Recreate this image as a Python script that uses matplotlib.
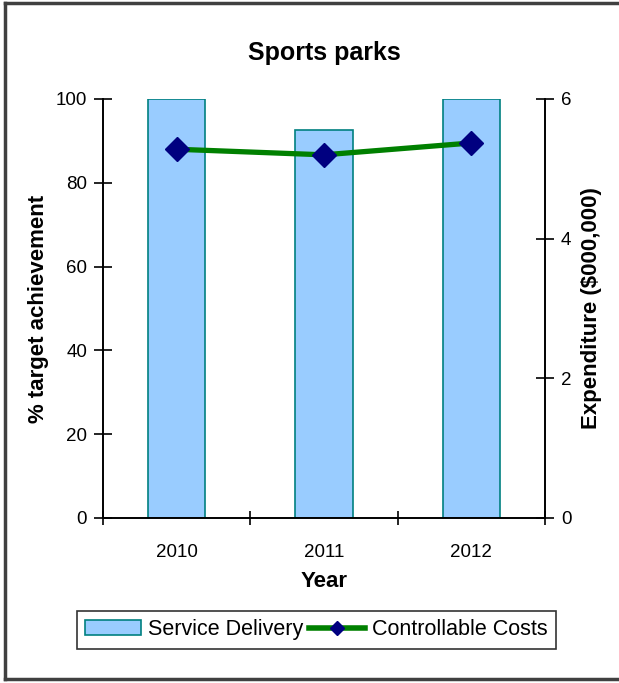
import matplotlib.pyplot as plt
from matplotlib.lines import Line2D

years = ['2010', '2011', '2012']
service_delivery = [100, 92.5, 100]       # % target achievement
controllable_costs = [5.28, 5.2, 5.37]    # expenditure, $000,000

plt.rcParams['font.family'] = ['Liberation Sans', 'DejaVu Sans']

fig = plt.figure(figsize=(6.19, 6.83), dpi=100)
ax = fig.add_axes([0.1664, 0.2416, 0.7141, 0.6135])
ax2 = ax.twinx()

x = range(len(years))
ax.bar(x, service_delivery, width=0.39, color='#99CCFF', edgecolor='#008080',
       linewidth=1.2, label='Service Delivery', zorder=2)
ax2.plot(x, controllable_costs, color='#008000', linewidth=3.8,
         marker='D', markersize=12, markerfacecolor='#000080',
         markeredgecolor='#000080', zorder=3)

ax.set_xlim(-0.5, 2.5)
ax.set_ylim(0, 100)
ax2.set_ylim(0, 6)
ax.set_yticks([0, 20, 40, 60, 80, 100])
ax2.set_yticks([0, 2, 4, 6])
ax.set_xticks([-0.5, 0.5, 1.5, 2.5])
ax.set_xticklabels([])
ax.set_xticks(list(x), minor=True)
ax.set_xticklabels(years, minor=True)
ax.tick_params(axis='x', which='minor', length=0, pad=19, labelsize=13.5)
ax.tick_params(axis='x', which='major', direction='inout', length=10, width=1.2)
ax.tick_params(axis='y', direction='inout', length=13, width=1.2, labelsize=13.5, pad=5)
ax2.tick_params(axis='y', direction='inout', length=13, width=1.2, labelsize=13.5, pad=5)

for a in (ax, ax2):
    a.spines['top'].set_visible(False)
    for s in ('left', 'right', 'bottom'):
        a.spines[s].set_linewidth(1.2)

ax.set_title('Sports parks', fontsize=18, fontweight='bold', pad=28)
ax.set_xlabel('Year', fontsize=16, fontweight='bold', labelpad=7)
ax.set_ylabel('% target achievement', fontsize=16, fontweight='bold', labelpad=5)
ax2.set_ylabel('Expenditure ($000,000)', fontsize=16, fontweight='bold', labelpad=7)

# legend across the bottom
bar_handle = plt.Rectangle((0, 0), 1, 1, facecolor='#99CCFF', edgecolor='#008080', linewidth=1.2)
line_handle = Line2D([], [], color='#008000', linewidth=4, marker='D', markersize=7,
                     markerfacecolor='#000080', markeredgecolor='#000080')
leg = fig.legend([bar_handle, line_handle], ['Service Delivery', 'Controllable Costs'],
                 loc='center', bbox_to_anchor=(0.511, 0.078), ncol=2, fontsize=15.5,
                 frameon=True, fancybox=False, handlelength=2.6, handletextpad=0.3,
                 columnspacing=0.3, borderpad=0.4)
leg.get_frame().set_edgecolor('black')
leg.get_frame().set_linewidth(1.2)

# outer frame lines
fig.add_artist(Line2D([0.008, 0.008], [0.006, 0.995], color='#404040', linewidth=2.5))
fig.add_artist(Line2D([0.008, 1.0], [0.995, 0.995], color='#404040', linewidth=2.5))
fig.add_artist(Line2D([0.008, 1.0], [0.006, 0.006], color='#404040', linewidth=2.5))

fig.savefig('out.png', dpi=100)
